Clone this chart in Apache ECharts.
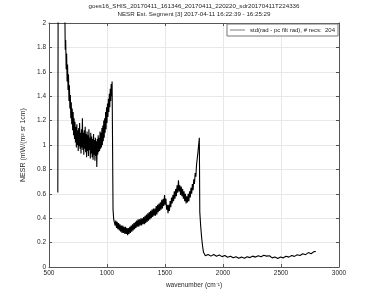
<!DOCTYPE html>
<html>
<head>
<meta charset="utf-8">
<script src="https://cdn.jsdelivr.net/npm/echarts@6/dist/echarts.min.js"></script>
<style>html,body{margin:0;padding:0;background:#fff}#c{width:375px;height:301px}</style>
</head>
<body>
<div id="c"></div>
<script>
var titleLines = ['goes16_SHIS_20170411_161346_20170411_220220_sdr20170411T224336', 'NESR Est. Segment [3] 2017-04-11 16:22:39 - 16:25:29'];
var seriesName = 'std(rad - pc filt rad), # recs:  204';
var xTicks = [500, 1000, 1500, 2000, 2500, 3000];
var yTicks = [0, 0.2, 0.4, 0.6, 0.8, 1, 1.2, 1.4, 1.6, 1.8, 2];

// edge spike near start of band 1
var edgeWn = [576, 580, 596, 616, 632];
var edgeVal = [0.61, 2.9, 3.4, 3.1, 2.6];

// band 1: 636 .. 1044, step 4
var band1Start = 636, band1Step = 4;
var band1Val = [2.15,1.78,1.86,1.62,1.75,1.52,1.66,1.45,1.58,1.36,1.49,1.30,1.41,1.22,1.35,1.17,1.30,1.12,1.27,1.08,
1.22,1.05,1.19,1.02,1.15,0.98,1.17,1.00,1.12,0.95,1.14,0.99,1.18,0.97,1.10,0.93,1.13,0.98,1.22,0.96,
1.10,0.92,1.12,0.97,1.15,0.94,1.09,0.90,1.11,0.95,1.08,0.91,1.13,0.96,1.06,0.89,1.10,0.93,1.07,0.90,
1.05,0.88,1.09,0.92,1.04,0.87,1.06,0.91,1.03,0.82,1.05,0.92,1.08,0.94,1.06,0.95,1.11,0.97,1.10,0.98,
1.14,1.00,1.16,1.03,1.20,1.06,1.22,1.10,1.27,1.13,1.31,1.18,1.34,1.23,1.38,1.27,1.42,1.31,1.46,1.36,
1.50,1.40,1.52];

// band 2: 1052 .. 1796, step 6
var band2Start = 1052, band2Step = 6;
var band2Val = [0.47,0.39,0.40,0.34,0.38,0.32,0.37,0.31,0.36,0.30,0.35,0.29,0.34,0.28,0.34,0.28,0.33,0.27,0.33,0.27,
0.32,0.26,0.32,0.27,0.33,0.28,0.34,0.29,0.35,0.30,0.36,0.31,0.37,0.32,0.38,0.33,0.39,0.33,0.39,0.34,
0.40,0.34,0.40,0.35,0.41,0.35,0.42,0.36,0.43,0.37,0.44,0.38,0.45,0.39,0.46,0.40,0.47,0.41,0.48,0.42,
0.48,0.42,0.50,0.43,0.51,0.45,0.52,0.46,0.53,0.47,0.55,0.48,0.56,0.50,0.59,0.51,0.56,0.47,0.51,0.44,
0.51,0.46,0.54,0.49,0.57,0.52,0.59,0.54,0.62,0.56,0.64,0.58,0.67,0.61,0.71,0.62,0.67,0.59,0.66,0.58,
0.64,0.56,0.62,0.54,0.60,0.52,0.58,0.53,0.60,0.54,0.62,0.57,0.65,0.60,0.68,0.63,0.72,0.68,0.77,0.74,
0.84,0.83,0.94,0.94,1.06];

// band 3: 1800 .. 2800, step 8
var band3Start = 1800, band3Step = 8;
var band3Val = [0.45,0.33,0.24,0.17,0.12,0.106,0.092,0.104,0.091,0.103,0.090,0.102,0.089,0.101,0.090,0.102,0.089,0.100,0.088,0.099,
0.087,0.098,0.086,0.097,0.085,0.096,0.084,0.094,0.082,0.092,0.080,0.090,0.078,0.088,0.077,0.087,0.075,0.085,0.074,0.084,
0.073,0.083,0.072,0.082,0.071,0.081,0.070,0.081,0.071,0.082,0.073,0.084,0.075,0.086,0.077,0.088,0.079,0.089,0.080,0.090,
0.081,0.091,0.082,0.092,0.083,0.093,0.084,0.094,0.085,0.096,0.087,0.099,0.089,0.100,0.085,0.092,0.079,0.087,0.075,0.084,
0.072,0.082,0.070,0.080,0.070,0.081,0.071,0.082,0.073,0.084,0.075,0.086,0.077,0.088,0.079,0.090,0.081,0.092,0.083,0.094,
0.085,0.096,0.087,0.098,0.089,0.100,0.091,0.103,0.094,0.106,0.096,0.109,0.099,0.112,0.101,0.115,0.104,0.118,0.107,0.121,
0.109,0.124,0.112,0.126,0.114,0.127];

var data = [];
edgeWn.forEach(function(w, i){ data.push([w, edgeVal[i]]); });
band1Val.forEach(function(v, i){ data.push([band1Start + i*band1Step, v]); });
band2Val.forEach(function(v, i){ data.push([band2Start + i*band2Step, v]); });
band3Val.forEach(function(v, i){ data.push([band3Start + i*band3Step, v]); });

var FONT = 'Liberation Sans, Arial, sans-serif';
var axisCol = '#555';
var labelCol = '#262626';

var chart = echarts.init(document.getElementById('c'), null, {renderer: 'canvas'});
var xMin = xTicks[0], xMax = xTicks[xTicks.length-1], xInt = xTicks[1]-xTicks[0];
var yMin = yTicks[0], yMax = yTicks[yTicks.length-1], yInt = 0.2;

function xAx(pos, show) {
  return {
    type: 'value', position: pos, min: xMin, max: xMax, interval: xInt,
    axisLine: {show: true, onZero: false, lineStyle: {color: axisCol, width: 1}},
    axisTick: {show: true, inside: true, length: 3, lineStyle: {color: axisCol}},
    axisLabel: {show: show, fontSize: 6.5, color: labelCol, fontFamily: FONT, margin: 3,
      formatter: function(v){ return String(v); }},
    splitLine: {show: show, lineStyle: {color: '#e8e8e8', width: 1}},
    name: show ? 'wavenumber (cm\u207B\u00B9)' : '',
    nameLocation: 'middle', nameGap: 14,
    nameTextStyle: {fontSize: 6.5, color: labelCol, fontFamily: FONT}
  };
}
function yAx(pos, show) {
  return {
    type: 'value', position: pos, min: yMin, max: yMax, interval: yInt,
    axisLine: {show: true, onZero: false, lineStyle: {color: axisCol, width: 1}},
    axisTick: {show: true, inside: true, length: 3, lineStyle: {color: axisCol}},
    axisLabel: {show: show, fontSize: 6.5, color: labelCol, fontFamily: FONT, margin: 3,
      formatter: function(v){ return String(Math.round(v*10)/10); }},
    splitLine: {show: show, lineStyle: {color: '#e8e8e8', width: 1}},
    name: show ? 'NESR (mW/(m\u00B2 sr 1cm)' : '',
    nameLocation: 'middle', nameGap: 14, nameRotate: 90,
    nameTextStyle: {fontSize: 7, color: labelCol, fontFamily: FONT}
  };
}

chart.setOption({
  animation: false,
  backgroundColor: '#fff',
  grid: {left: 49, right: 36, top: 23, bottom: 34, containLabel: false},
  xAxis: [xAx('bottom', true), xAx('top', false)],
  yAxis: [yAx('left', true), yAx('right', false)],
  legend: {
    right: 37, top: 24, orient: 'horizontal',
    backgroundColor: '#fff', borderColor: '#777', borderWidth: 1,
    padding: [3, 3, 3, 3], itemWidth: 15, itemHeight: 7, itemGap: 4,
    textStyle: {fontSize: 6, color: labelCol, fontFamily: FONT},
    data: [{name: seriesName, icon: 'path://M0,4L15,4L15,4.7L0,4.7Z'}]
  },
  graphic: [
    {type: 'text', x: 194, y: 3, style: {text: titleLines[0], textAlign: 'center', fontSize: 6.2, fill: labelCol, fontFamily: FONT}},
    {type: 'text', x: 194, y: 11.5, style: {text: titleLines[1], textAlign: 'center', fontSize: 6.2, fill: labelCol, fontFamily: FONT}}
  ],
  series: [{
    name: seriesName, type: 'line', data: data, symbol: 'none', clip: true,
    xAxisIndex: 0, yAxisIndex: 0,
    itemStyle: {color: '#444'},
    lineStyle: {color: '#000', width: 1.1}
  }]
});
</script>
</body>
</html>
